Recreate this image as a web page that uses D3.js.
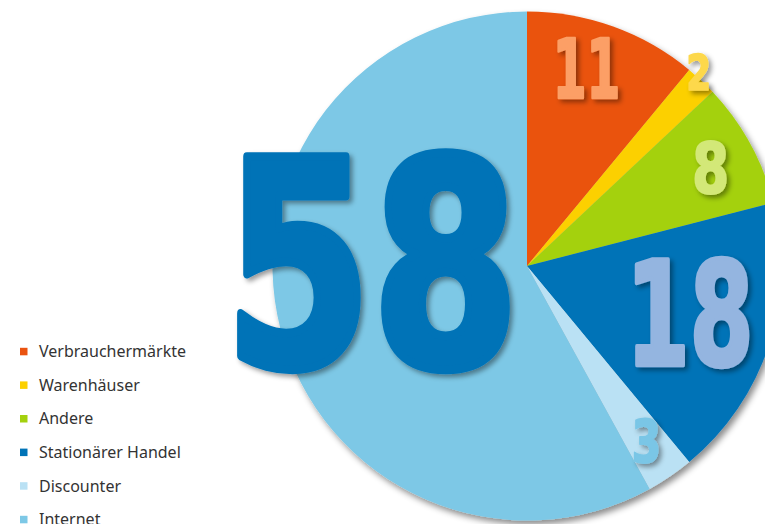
<!DOCTYPE html>
<html><head><meta charset="utf-8">
<script src="https://cdn.jsdelivr.net/npm/d3@7"></script>
<style>html,body{margin:0;padding:0;background:#fff;}svg{display:block;}</style>
</head><body><svg id="c" width="765" height="524"></svg>
<script>
const categories = ["Verbrauchermärkte","Warenhäuser","Andere","Stationärer Handel","Discounter","Internet"];
const values = [11, 2, 8, 18, 3, 58];
const labels = ["11","2","8","18","3","58"];
const sliceColors = ["#ea5310","#fcd000","#a4d10e","#0073b7","#bae1f4","#7dc8e6"];
const labelColors = ["#fc9f66","#fdd84c","#d3e878","#94b5e0","#7ac6e6","#0073b7"];

const W = 765, H = 524;
const cx = 527, cy = 266, R = 254.5;
// label layout: [radius fraction, angle offset (deg), digit height px, width px]
const labelLayout = [
  [0.81, -3, 62, 61],
  [1.02, -1.8, 38, 23],
  [0.82, 0.5, 53, 34],
  [0.665, -2.0, 109, 116],
  [0.83, -0.2, 45, 27],
  [0.61, 16.2, 218, 272]
];

const svg = d3.select("#c");
const defs = svg.append("defs");
const f1 = defs.append("filter").attr("id","pieShadow").attr("x","-10%").attr("y","-10%").attr("width","120%").attr("height","120%");
f1.append("feDropShadow").attr("dx",3).attr("dy",4).attr("stdDeviation",3).attr("flood-color","#000").attr("flood-opacity",0.45);
const f2 = defs.append("filter").attr("id","txtShadow").attr("x","-20%").attr("y","-20%").attr("width","140%").attr("height","140%");
f2.append("feDropShadow").attr("dx",3).attr("dy",3).attr("stdDeviation",2.5).attr("flood-color","#000").attr("flood-opacity",0.4);

const data = categories.map((c,i)=>({name:c, value:values[i], label:labels[i], color:sliceColors[i], lc:labelColors[i], lay:labelLayout[i]}));
const pie = d3.pie().sort(null).value(d=>d.value);
const arcs = pie(data);
const arc = d3.arc().innerRadius(0).outerRadius(R);

const g = svg.append("g").attr("transform",`translate(${cx},${cy})`);
g.append("g").attr("filter","url(#pieShadow)")
  .selectAll("path").data(arcs).join("path")
  .attr("d",arc).attr("fill",d=>d.data.color);

// number labels
arcs.forEach(a=>{
  const [rf, off, h, w] = a.data.lay;
  const ang = (a.startAngle + a.endAngle)/2 + off*Math.PI/180;
  const x = Math.sin(ang)*R*rf, y = -Math.cos(ang)*R*rf;
  const sw = h*0.04;
  const fs = (h - sw)/0.729;
  g.append("text")
    .attr("x",x).attr("y",y + h/2 - sw/2)
    .attr("text-anchor","middle")
    .attr("font-family","'DejaVu Sans Condensed','DejaVu Sans',sans-serif")
    .attr("font-weight","bold")
    .attr("font-size",fs)
    .attr("textLength",w + fs*0.04*a.data.label.length).attr("lengthAdjust","spacingAndGlyphs")
    .attr("fill",a.data.lc)
    .attr("stroke",a.data.lc).attr("stroke-width",sw).attr("stroke-linejoin","round")
    .attr("filter","url(#txtShadow)")
    .text(a.data.label);
});

// legend
const legend = svg.append("g").attr("transform","translate(20,351.5)");
const rowH = 33.6;
const items = legend.selectAll("g").data(data).join("g")
  .attr("transform",(d,i)=>`translate(0,${i*rowH})`);
items.append("rect").attr("x",0).attr("y",-3.7).attr("width",7.5).attr("height",7.5).attr("fill",d=>d.color);
items.append("text").attr("x",19).attr("y",0).attr("dy","0.36em")
  .attr("font-family","'Noto Sans','Open Sans',sans-serif").attr("font-size",16)
  .attr("fill","#333").text(d=>d.name);
</script></body></html>
